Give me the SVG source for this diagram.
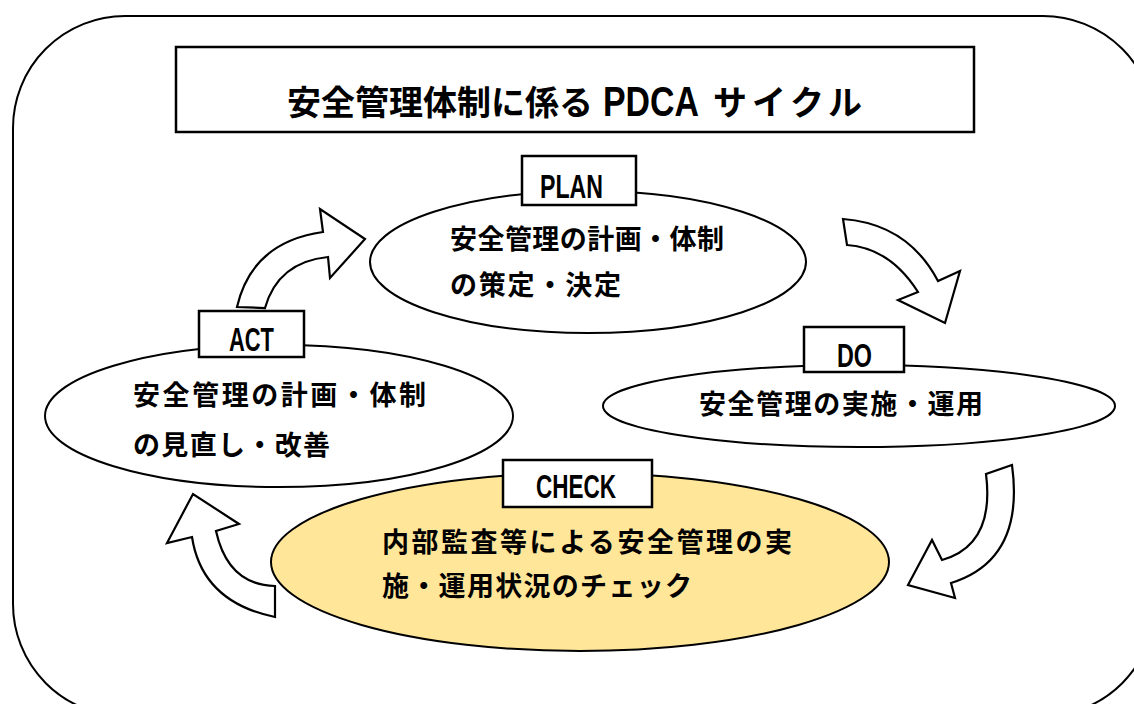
<svg xmlns="http://www.w3.org/2000/svg" width="1134" height="704" viewBox="0 0 1134 704">
<style>
.frame{fill:#fff;stroke:#000;stroke-width:2}
.box{fill:#fff;stroke:#000;stroke-width:2.5}
.ell{fill:#fff;stroke:#000;stroke-width:2}
.ell-check{fill:#FFE699;stroke:#000;stroke-width:2}
.arrow{fill:#fff;stroke:#000;stroke-width:2.2;stroke-linejoin:miter}
.jp{font-family:"Noto Sans CJK JP","Noto Sans",sans-serif;font-weight:700;fill:#000}
.lbl{font-family:"Liberation Sans","DejaVu Sans",sans-serif;font-weight:700;fill:#000;font-size:34px}
.ttl-latin{font-family:"Liberation Sans","DejaVu Sans",sans-serif;font-weight:700;fill:#000;font-size:43px}
</style>
<rect class="frame" x="13" y="16" width="1142" height="700" rx="112" ry="112"/>

<g id="title">
<rect class="box" x="176" y="47" width="798" height="85"/>
<text class="jp" x="287" y="115" font-size="34" textLength="306" lengthAdjust="spacing">安全管理体制に係る</text>
<text class="ttl-latin" x="603" y="116" textLength="96" lengthAdjust="spacingAndGlyphs">PDCA</text>
<text class="jp" x="713" y="115" font-size="34" textLength="149" lengthAdjust="spacing">サイクル</text>
</g>

<g id="connectors">
<path class="arrow" d="M237,307 Q252,242 323,232 L320,209 L365,239 L330,278 L328,257 Q278,262 265,308 Z"/>
<path class="arrow" d="M843,219 Q908,224 938,281 L960,271 L945,323 L898,300 L918,292 Q890,248 847,245 Z"/>
<path class="arrow" d="M986,474 Q995,545 942,560 L932,540 L908,585 L955,598 L951,583 Q1025,560 1012,465 Z"/>
<path class="arrow" d="M275,617 Q202,602 192,537 L167,543 L193,494 L239,524 L216,531 Q228,585 275,586 Z"/>
</g>

<g id="plan">
<ellipse class="ell" cx="588" cy="262" rx="218" ry="71"/>
<rect class="box" x="522" y="156" width="114" height="49"/>
<text class="lbl" x="540" y="198" textLength="63" lengthAdjust="spacingAndGlyphs">PLAN</text>
<text class="jp" font-size="27" x="450" y="249" textLength="274" lengthAdjust="spacing">安全管理の計画・体制</text>
<text class="jp" font-size="27" x="450" y="295" textLength="171" lengthAdjust="spacing">の策定・決定</text>
</g>

<g id="do">
<ellipse class="ell" cx="859" cy="406" rx="256" ry="41"/>
<rect class="box" x="804" y="327" width="100" height="45"/>
<text class="lbl" x="837" y="367" textLength="35" lengthAdjust="spacingAndGlyphs">DO</text>
<text class="jp" font-size="27" x="699" y="414" textLength="284" lengthAdjust="spacing">安全管理の実施・運用</text>
</g>

<g id="check">
<ellipse class="ell-check" cx="580" cy="562" rx="309" ry="89"/>
<rect class="box" x="503" y="460" width="149" height="47"/>
<text class="lbl" x="536" y="498" textLength="80" lengthAdjust="spacingAndGlyphs">CHECK</text>
<text class="jp" font-size="27" x="382" y="552" textLength="410" lengthAdjust="spacing">内部監査等による安全管理の実</text>
<text class="jp" font-size="27" x="382" y="596" textLength="310" lengthAdjust="spacing">施・運用状況のチェック</text>
</g>

<g id="act">
<ellipse class="ell" cx="279" cy="416" rx="234" ry="71"/>
<rect class="box" x="199" y="311" width="105" height="46"/>
<text class="lbl" x="229" y="351" textLength="45" lengthAdjust="spacingAndGlyphs">ACT</text>
<text class="jp" font-size="27" x="133" y="405" textLength="293" lengthAdjust="spacing">安全管理の計画・体制</text>
<text class="jp" font-size="27" x="133" y="455" textLength="197" lengthAdjust="spacing">の見直し・改善</text>
</g>
</svg>
